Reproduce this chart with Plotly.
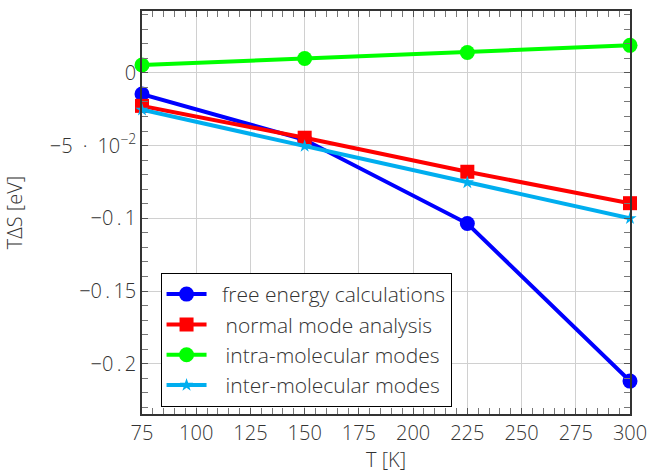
import plotly.graph_objects as go

T = [75, 150, 225, 300]
free_energy = [-0.0146, -0.046, -0.1036, -0.2119]
normal_mode = [-0.0227, -0.0446, -0.068, -0.0896]
intra_modes = [0.0054, 0.0099, 0.014, 0.0189]
inter_modes = [-0.0254, -0.0504, -0.0754, -0.1]

x_ticks = [75, 100, 125, 150, 175, 200, 225, 250, 275, 300]
y_ticks = [0, -0.05, -0.1, -0.15, -0.2]
y_ticktext = ["0", "−5\u2002·\u200210<sup>−2</sup>", "−0\u2009.\u20091", "−0\u2009.\u200915", "−0\u2009.\u20092"]

series = [
    ("\u2002free energy calculations", free_energy, "#0000ff", "circle", 15),
    ("\u2002\u2009normal mode analysis", normal_mode, "#ff0000", "square", 14),
    ("\u2002\u2009intra-molecular modes", intra_modes, "#00ff00", "circle", 15),
    ("\u2002\u2009inter-molecular modes", inter_modes, "#00aeef", "star", 10),
]

fig = go.Figure()
for name, vals, col, sym, sz in series:
    fig.add_trace(go.Scatter(
        x=T, y=vals, name=name, mode="lines+markers",
        line=dict(color=col, width=4),
        marker=dict(color=col, symbol=sym, size=sz, line=dict(width=0)),
        cliponaxis=False,
    ))

font = dict(family="Open Sans", size=20, color="#333333", weight=300)
fig.update_layout(
    width=656, height=475,
    margin=dict(l=142, r=20, t=9, b=57),
    plot_bgcolor="white", paper_bgcolor="white",
    font=font,
    showlegend=True,
    legend=dict(
        x=0.038, y=0.35, xanchor="left", yanchor="top",
        bordercolor="black", borderwidth=1, bgcolor="white",
        font=dict(family="Open Sans", size=21, color="#333333", weight=300),
        tracegroupgap=0, itemwidth=40,
    ),
)
fig.update_xaxes(
    range=[75, 300], tickvals=x_ticks, ticks="inside", ticklen=6,
    tickcolor="#555555", showline=True, linecolor="#333333", linewidth=1.5,
    mirror="allticks", showgrid=True, gridcolor="#d0d0d0", gridwidth=1,
    zeroline=False,
    minor=dict(dtick=5, ticks="inside", ticklen=6, tickcolor="#777777", showgrid=False),
    title=dict(text="T [K]", font=dict(family="Open Sans", size=20, color="#333333", weight=300), standoff=6),
    tickfont=font,
)
fig.update_yaxes(
    range=[-0.2345, 0.0425], tickvals=y_ticks, ticktext=y_ticktext,
    ticks="inside", ticklen=6, tickcolor="#555555",
    showline=True, linecolor="#333333", linewidth=1.5, mirror="allticks",
    showgrid=True, gridcolor="#d0d0d0", gridwidth=1, zeroline=False,
    minor=dict(dtick=0.01, tick0=0, ticks="inside", ticklen=6, tickcolor="#777777", showgrid=False),
    title=dict(text="TΔS [eV]", font=dict(family="Open Sans", size=20, color="#333333", weight=300), standoff=22),
    tickfont=font,
)

fig.write_html("out.html")
